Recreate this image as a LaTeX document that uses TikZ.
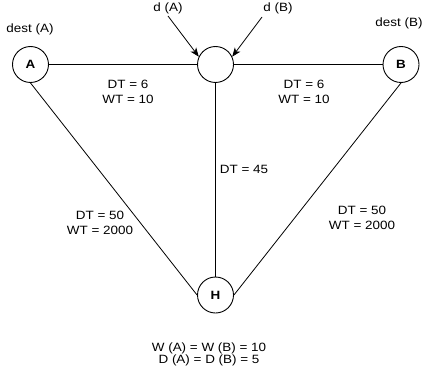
\documentclass[tikz,border=0pt]{standalone}
\usepackage{fontspec}
\setmainfont[FakeStretch=1.12]{Liberation Sans}
\usetikzlibrary{arrows.meta}
\begin{document}
\begin{tikzpicture}[x=1pt,y=-1pt,
  vert/.style={circle,draw,line width=0.9pt,minimum size=36pt,inner sep=0pt,font=\fontsize{12}{14}\selectfont\bfseries},
  lbl/.style={font=\fontsize{12}{15}\selectfont,align=center,inner sep=0pt},
  edge/.style={line width=0.8pt},
  arr/.style={line width=0.8pt,-{Stealth[length=9pt,width=7pt,inset=2.5pt]}}]
\useasboundingbox (0,0) rectangle (422,374);
\node[vert] (A) at (30.5,64.5) {A};
\node[vert] (C) at (215.5,64.5) {};
\node[vert] (B) at (401,64.5) {B};
\node[vert] (H) at (215.5,295) {H};
\draw[edge] (A) -- (C);
\draw[edge] (C) -- (B);
\draw[edge] (C.south) -- (H.north);
\draw[edge] (A.south) -- (H.west);
\draw[edge] (B.south) -- (H.east);
\coordinate (sa) at (168,16);
\coordinate (sb) at (262,17);
\draw[arr] (sa) -- (C.155);
\draw[arr] (sb) -- (C.25);
\node[lbl] (ldA) at (168,8) {d (A)};
\node[lbl] (ldB) at (278,8) {d (B)};
\node[lbl] (ldestA) at (30,29) {dest (A)};
\node[lbl] (ldestB) at (399,23) {dest (B)};
\node[lbl] (l1) at (128,91.7) {DT = 6\\WT = 10};
\node[lbl] (l2) at (304,91.7) {DT = 6\\WT = 10};
\node[lbl] (l3) at (244,169.5) {DT = 45};
\node[lbl] (l4) at (100,223.3) {DT = 50\\WT = 2000};
\node[lbl] (l5) at (362,217.5) {DT = 50\\WT = 2000};
\node[lbl,font=\fontsize{12}{12.7}\selectfont] (l6) at (209,354.5) {W (A) = W (B) = 10\\D (A) = D (B) = 5};
\end{tikzpicture}
\end{document}
